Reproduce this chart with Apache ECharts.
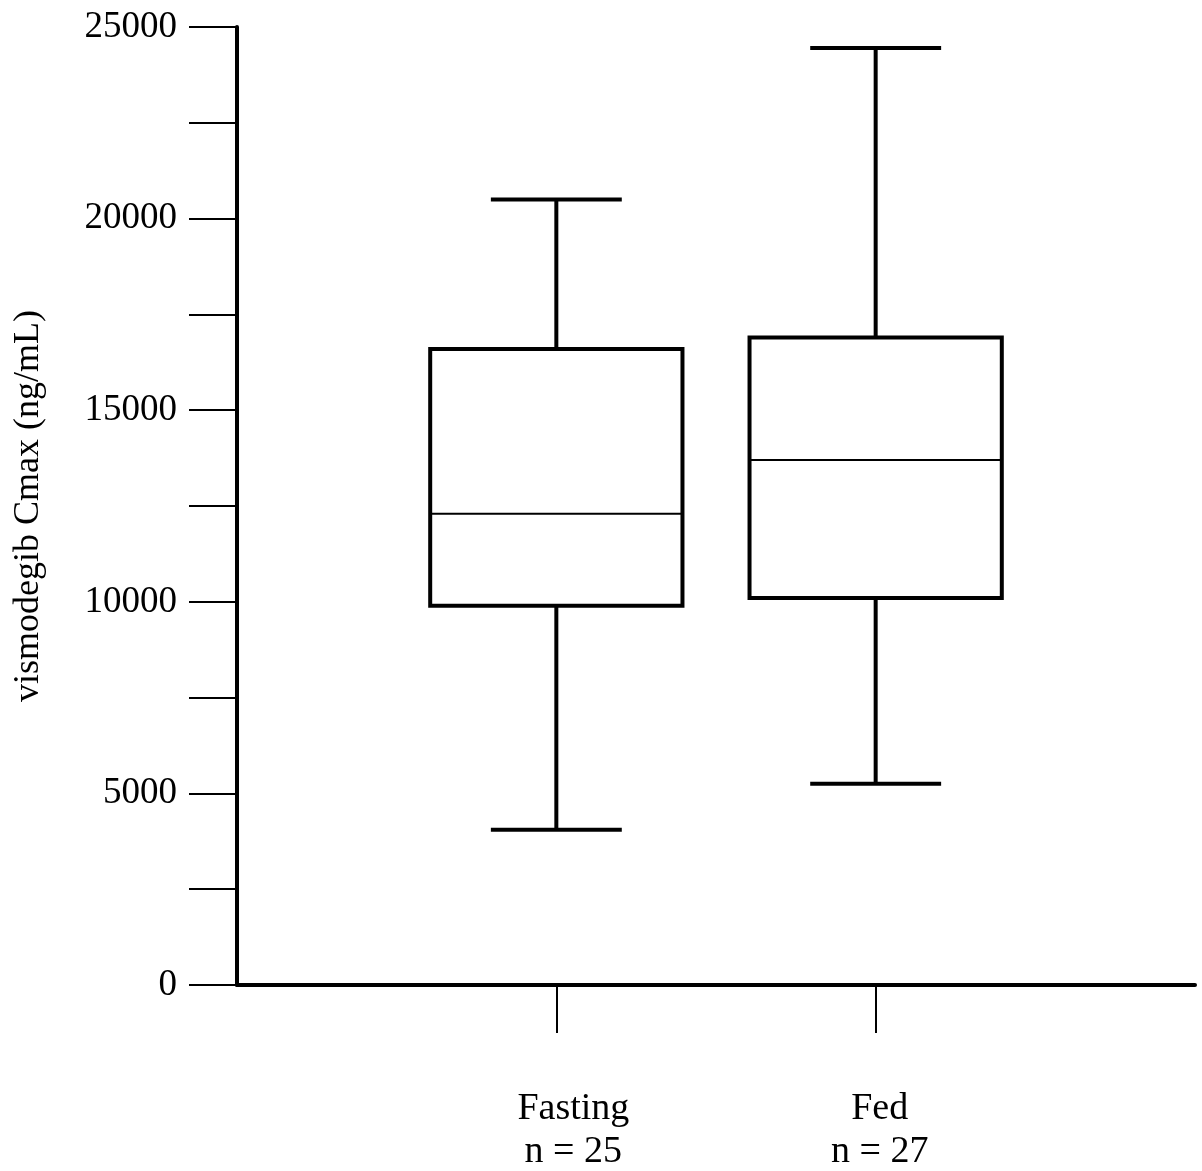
<!DOCTYPE html>
<html>
<head>
<meta charset="utf-8">
<script src="https://cdn.jsdelivr.net/npm/echarts@6/dist/echarts.min.js"></script>
<style>
  html, body { margin: 0; padding: 0; background: #fff; }
  #chart { width: 1202px; height: 1171px; }
</style>
</head>
<body>
<div id="chart"></div>
<script>
// groups and their sizes
const groups = ['Fasting', 'Fed']
const groupN = [25, 27]
// five-number summaries (ng/mL)
const whiskerLow = [4050, 5250]
const q1 = [9900, 10100]
const median = [12300, 13700]
const q3 = [16600, 16900]
const whiskerHigh = [20500, 24450]

// labels sit a bit right of their ticks in the original
const labelShift = [34, 8]

// category axis padded with an empty slot on each side
const axisCats = [''].concat(
  groups.map((g, i) => ({
    value: g + '\nn = ' + groupN[i],
    textStyle: { padding: [0, 0, 0, labelShift[i]] }
  })),
  ['']
)

const boxData = groups.map((g, i) => [i + 1, whiskerLow[i], q1[i], median[i], q3[i], whiskerHigh[i]])

const chart = echarts.init(document.getElementById('chart'))

const renderBox = (params, api) => {
  const cx = api.coord([api.value(0), 0])[0]
  const step = api.coord([1, 0])[0] - api.coord([0, 0])[0]
  const half = step * 0.395
  const capHalf = step * 0.205
  const y = (v) => api.coord([api.value(0), v])[1]
  const yMin = y(api.value(1))
  const yQ1 = y(api.value(2))
  const yMed = y(api.value(3))
  const yQ3 = y(api.value(4))
  const yMax = y(api.value(5))
  const thick = { stroke: '#000', lineWidth: 4 }
  return {
    type: 'group',
    children: [
      { type: 'line', shape: { x1: cx, y1: yQ3, x2: cx, y2: yMax }, style: thick },
      { type: 'line', shape: { x1: cx, y1: yQ1, x2: cx, y2: yMin }, style: thick },
      { type: 'line', shape: { x1: cx - capHalf, y1: yMax, x2: cx + capHalf, y2: yMax }, style: thick },
      { type: 'line', shape: { x1: cx - capHalf, y1: yMin, x2: cx + capHalf, y2: yMin }, style: thick },
      {
        type: 'rect',
        shape: { x: cx - half, y: yQ3, width: half * 2, height: yQ1 - yQ3 },
        style: { fill: '#fff', stroke: '#000', lineWidth: 4 }
      },
      { type: 'line', shape: { x1: cx - half, y1: yMed, x2: cx + half, y2: yMed }, style: { stroke: '#000', lineWidth: 2 } }
    ]
  }
}

const option = {
  backgroundColor: '#fff',
  animation: false,
  textStyle: { fontFamily: 'Liberation Serif', color: '#000' },
  grid: {
    left: 237,
    right: 7,
    top: 27,
    bottom: 186,
    containLabel: false,
    outerBoundsMode: 'none'
  },
  xAxis: {
    type: 'category',
    data: axisCats,
    boundaryGap: false,
    axisLine: { lineStyle: { color: '#000', width: 4 } },
    axisTick: {
      length: 48,
      lineStyle: { color: '#000', width: 2 },
      interval: (idx) => idx > 0 && idx < axisCats.length - 1
    },
    axisLabel: {
      interval: 0,
      margin: 103,
      fontSize: 38,
      lineHeight: 43,
      color: '#000',
      fontFamily: 'Liberation Serif'
    },
    splitLine: { show: false }
  },
  yAxis: {
    type: 'value',
    min: 0,
    max: 25000,
    interval: 2500,
    name: 'vismodegib Cmax (ng/mL)',
    nameLocation: 'middle',
    nameGap: 190,
    nameTextStyle: { fontSize: 36, color: '#000', fontFamily: 'Liberation Serif' },
    axisLine: { show: true, lineStyle: { color: '#000', width: 4 } },
    axisTick: { show: true, length: 48, lineStyle: { color: '#000', width: 2 } },
    axisLabel: {
      margin: 60,
      fontSize: 37,
      color: '#000',
      fontFamily: 'Liberation Serif',
      formatter: (v) => (v % 5000 === 0 ? String(v) : '')
    },
    splitLine: { show: false }
  },
  series: [
    {
      type: 'custom',
      renderItem: renderBox,
      data: boxData,
      encode: { x: 0, y: [1, 2, 3, 4, 5] }
    }
  ]
}

chart.setOption(option)
</script>
</body>
</html>
